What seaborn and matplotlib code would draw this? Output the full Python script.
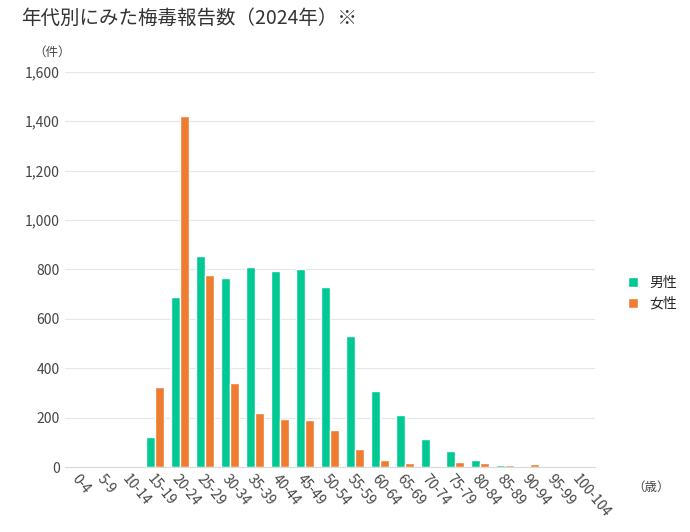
import seaborn as sns
import matplotlib.pyplot as plt
import pandas as pd

ages = ["0-4", "5-9", "10-14", "15-19", "20-24", "25-29", "30-34", "35-39", "40-44",
        "45-49", "50-54", "55-59", "60-64", "65-69", "70-74", "75-79", "80-84",
        "85-89", "90-94", "95-99", "100-104"]
male = [5, 0, 0, 120, 690, 855, 765, 810, 795, 800, 730, 530, 310, 210, 115, 65, 30, 8, 4, 0, 0]
female = [5, 0, 0, 325, 1420, 778, 340, 218, 195, 190, 150, 73, 30, 15, 3, 22, 15, 8, 12, 4, 0]

df = pd.DataFrame({"age": ages * 2, "value": male + female,
                   "sex": ["男性"] * len(ages) + ["女性"] * len(ages)})

sns.set_style("white")
plt.rcParams['font.family'] = ['Noto Sans CJK JP', 'DejaVu Sans']

fig = plt.figure(figsize=(6.9, 5.32), dpi=100)
ax = fig.add_axes([0.094, 0.122, 0.768, 0.743])
sns.barplot(data=df, x="age", y="value", hue="sex", palette=["#00C994", "#EE7D31"],
            width=0.7, ax=ax, saturation=1)
ax.set_ylim(0, 1600)
ax.set_xlim(-0.6, len(ages) - 0.4)
ax.set_yticks(range(0, 1601, 200))
ax.set_yticklabels([f"{v:,}" for v in range(0, 1601, 200)], fontsize=10, color="#444")
ax.yaxis.grid(True, color="#e6e6e6", lw=0.8)
ax.set_axisbelow(True)
for s in ["top", "right", "left"]:
    ax.spines[s].set_visible(False)
ax.spines["bottom"].set_color("#d9d9d9")
ax.tick_params(axis="both", length=0)
plt.setp(ax.get_xticklabels(), rotation=-50, ha="left", rotation_mode="anchor",
         fontsize=10, color="#444")
ax.set_xlabel("")
ax.set_ylabel("")
ax.text(-0.06, 1.04, "（件）", transform=ax.transAxes, fontsize=9, color="#444")
ax.text(1.07, -0.06, "（歳）", transform=ax.transAxes, fontsize=9, color="#444")
ax.legend(loc="center left", bbox_to_anchor=(1.04, 0.44), frameon=False,
          fontsize=10, handlelength=0.7, handleheight=0.7)
fig.text(0.03, 0.955, "年代別にみた梅毒報告数（2024年）※", fontsize=14, color="#333")
fig.savefig("out.png")
